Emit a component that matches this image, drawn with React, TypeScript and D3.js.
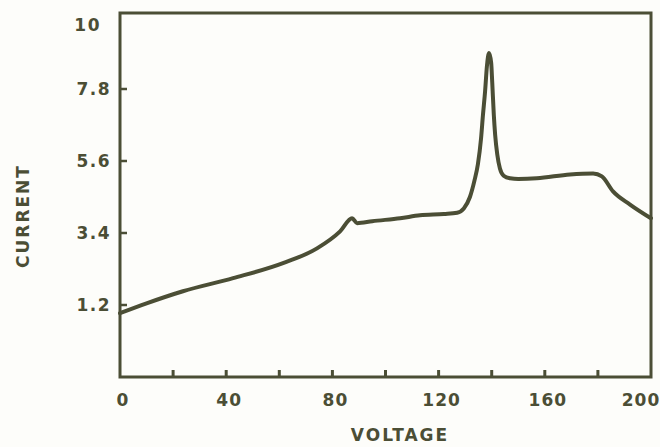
import React from "react";
import * as d3 from "d3";

const voltage = [0, 10, 23.7, 42.6, 61.4, 74.2, 82.9, 87.4, 89.3, 95, 105.5, 113, 122, 127, 129.5, 131.8, 133.5, 134.8, 136.0, 136.7, 137.5, 138.2, 139.0, 139.8, 140.2, 140.8, 141.3, 142.1, 143.1, 144.5, 146.9, 150, 157, 169.5, 178.2, 181.5, 185.7, 192.1, 200];
const current = [0.95, 1.25, 1.62, 2.02, 2.48, 2.93, 3.45, 3.85, 3.70, 3.76, 3.85, 3.94, 3.98, 4.02, 4.15, 4.5, 5.0, 5.5, 6.3, 7.0, 7.72, 8.5, 8.9, 8.6, 8.0, 7.0, 6.4, 5.8, 5.37, 5.15, 5.07, 5.05, 5.07, 5.19, 5.22, 5.13, 4.67, 4.27, 3.85];

const xTickValues = [20, 40, 60, 80, 100, 120, 140, 160, 180];
const xLabelValues = [0, 40, 80, 120, 160, 200];
const yTickValues = [1.2, 3.4, 5.6, 7.8];
const yLabelValues = [1.2, 3.4, 5.6, 7.8, 10];

const W = 660;
const H = 447;
const left = 120;
const right = 651;
const top = 13;
const bottom = 377;
const ink = "#4b4e35";
const font = "'DejaVu Sans', sans-serif";

export default function App() {
  const x = d3.scaleLinear().domain([0, 200]).range([left, right]);
  const y = d3.scaleLinear().domain([-1, 10]).range([bottom, 17]);
  const pts = voltage.map((v, i) => [v, current[i]] as [number, number]);
  const line = d3
    .line<[number, number]>()
    .x((d) => x(d[0]))
    .y((d) => y(d[1]))
    .curve(d3.curveMonotoneX);

  return (
    <svg
      width={W}
      height={H}
      style={{ position: "absolute", left: 0, top: 0, background: "#fdfdfa" }}
    >
      <rect x={left} y={top} width={right - left} height={bottom - top} fill="none" stroke={ink} strokeWidth={3} />
      {xTickValues.map((t) => (
        <line key={"xt" + t} x1={x(t)} x2={x(t)} y1={bottom} y2={bottom - 7} stroke={ink} strokeWidth={3} />
      ))}
      {yTickValues.map((t) => (
        <line key={"yt" + t} x1={left} x2={left + 7} y1={y(t)} y2={y(t)} stroke={ink} strokeWidth={2.5} />
      ))}
      <path d={line(pts) || ""} fill="none" stroke={ink} strokeWidth={4} strokeLinejoin="round" strokeLinecap="round" />
      {xLabelValues.map((t) => (
        <text
          key={"xl" + t}
          x={x(t) + (t === 0 ? 3 : t === 200 ? -10 : 3)}
          y={406}
          textAnchor="middle"
          fontFamily={font}
          fontWeight="bold"
          fontSize={17}
          letterSpacing={1}
          fill={ink}
        >
          {String(t)}
        </text>
      ))}
      {yLabelValues.map((t) => (
        <text
          key={"yl" + t}
          x={t === 10 ? 101 : 111}
          y={Math.max(y(t), 25) + 6}
          textAnchor="end"
          fontFamily={font}
          fontWeight="bold"
          fontSize={17}
          letterSpacing={1.5}
          fill={ink}
        >
          {t === 10 ? "10" : t.toFixed(1)}
        </text>
      ))}
      <text x={400} y={441} textAnchor="middle" fontFamily={font} fontWeight="bold" fontSize={17} letterSpacing={2} fill={ink}>
        VOLTAGE
      </text>
      <text
        transform="translate(29,216) rotate(-90)"
        textAnchor="middle"
        fontFamily={font}
        fontWeight="bold"
        fontSize={17}
        letterSpacing={2}
        fill={ink}
      >
        CURRENT
      </text>
    </svg>
  );
}
